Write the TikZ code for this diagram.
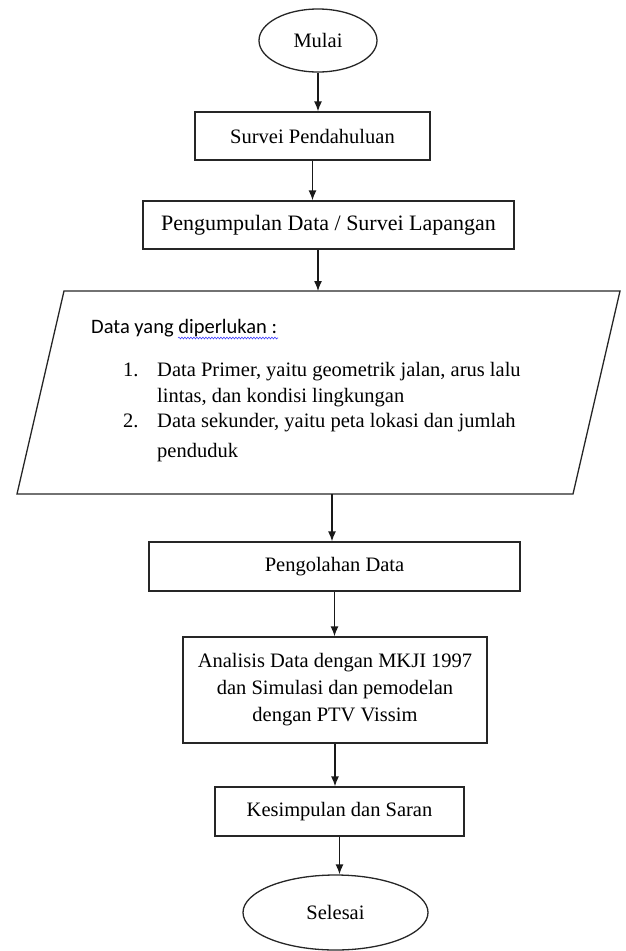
\documentclass[tikz,border=0pt]{standalone}
\usepackage{fontspec}
\setmainfont{Liberation Serif}
\newfontfamily\carlito{Carlito}
\usetikzlibrary{shapes.geometric,arrows.meta,decorations.pathmorphing}
\begin{document}
\begin{tikzpicture}[x=1pt,y=-1pt,
  kotak/.style={draw=black!85,line width=1.3pt,inner sep=0pt,align=center,font=\fontsize{20.5}{27}\selectfont},
  oval/.style={draw=black!85,line width=1.3pt,ellipse,inner sep=0pt,font=\fontsize{20.5}{27}\selectfont},
  panah/.style={-{Latex[length=10pt,width=8pt]},line width=1.3pt,draw=black!90},
  isi/.style={anchor=base west,inner sep=0pt,font=\fontsize{20.5}{25}\selectfont}]
\useasboundingbox (0,0) rectangle (626,951);
\node[oval,minimum width=118pt,minimum height=63pt] (mulai) at (318,40.5){Mulai};
\node[kotak,minimum width=235pt,minimum height=48pt] (survei) at (312.5,136){Survei Pendahuluan};
\node[kotak,minimum width=371pt,minimum height=48pt,font=\fontsize{22}{27}\selectfont] (kumpul) at (328.5,225){Pengumpulan Data / Survei Lapangan};
\draw[draw=black!85,line width=1.3pt] (17,494) -- (64,291) -- (620,291) -- (573,494) -- cycle;
\coordinate (datatop) at (318,291);
\coordinate (databot) at (332,494);
\node[isi,font=\carlito\fontsize{20.5}{25}\selectfont] (perlu) at (91,333){Data yang diperlukan :};
\draw[blue!75,line width=0.6pt,decorate,decoration={snake,amplitude=0.9pt,segment length=3pt}] (178,338) -- (278,338);
\node[isi] (no1) at (123,376){1.};
\node[isi] (primer) at (157,376){Data Primer, yaitu geometrik jalan, arus lalu};
\node[isi] (lintas) at (157,402){lintas, dan kondisi lingkungan};
\node[isi] (no2) at (123,427){2.};
\node[isi] (sekunder) at (157,427){Data sekunder, yaitu peta lokasi dan jumlah};
\node[isi] (penduduk) at (157,457){penduduk};
\node[kotak,minimum width=371pt,minimum height=49pt] (olah) at (334.5,566.5){Pengolahan Data};
\node[kotak,minimum width=304pt,minimum height=106pt] (analisis) at (335,690){Analisis Data dengan MKJI 1997\\dan Simulasi dan pemodelan\\dengan PTV Vissim};
\node[kotak,minimum width=249pt,minimum height=49pt] (saran) at (339.5,811.5){Kesimpulan dan Saran};
\node[oval,minimum width=185pt,minimum height=75pt] (selesai) at (335.5,912.5){Selesai};
\draw[panah] (mulai) -- (mulai |- survei.north);
\draw[panah] (survei) -- (survei |- kumpul.north);
\draw[panah] (kumpul.south -| datatop) -- (datatop);
\draw[panah] (databot) -- (databot |- olah.north);
\draw[panah] (olah) -- (olah |- analisis.north);
\draw[panah] (analisis) -- (analisis |- saran.north);
\draw[panah] (saran) -- (saran |- selesai.north);
\end{tikzpicture}
\end{document}
